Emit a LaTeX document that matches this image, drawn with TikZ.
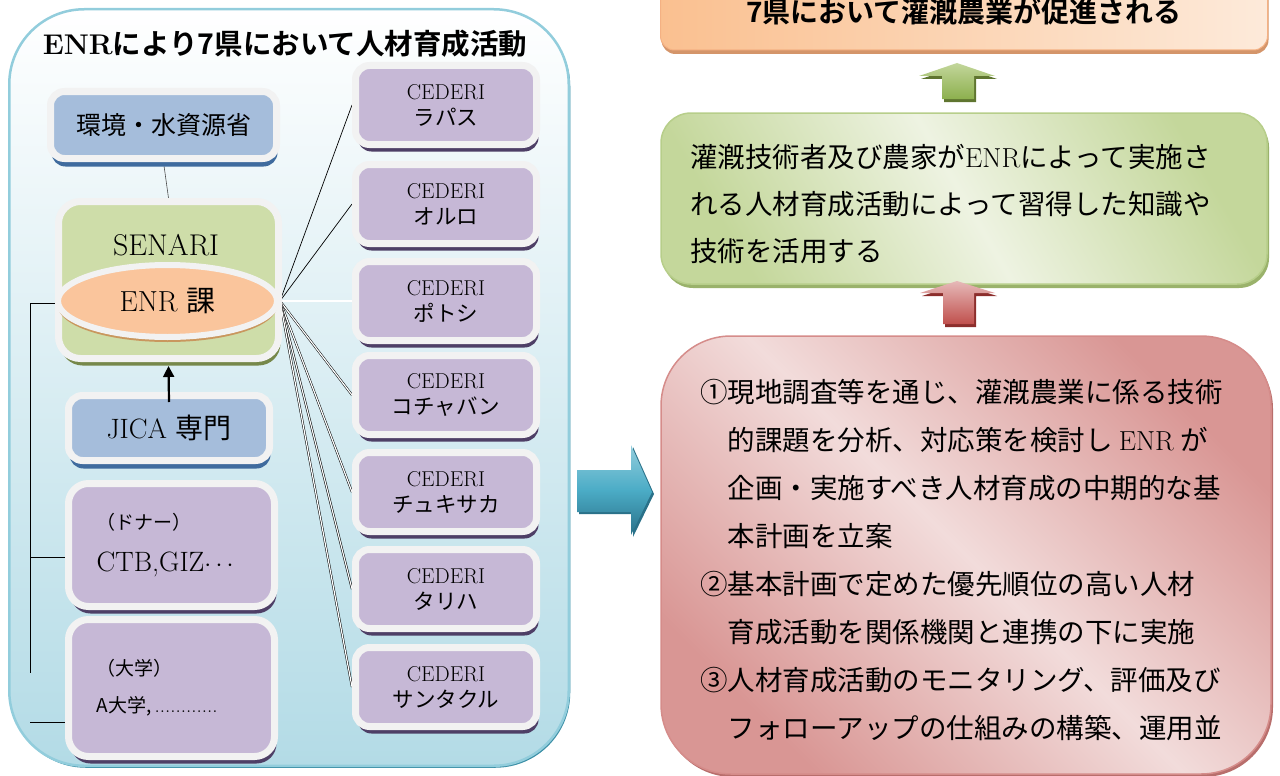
\documentclass[tikz,border=0pt]{standalone}
\usepackage{fontspec}
\newfontfamily\jp{Noto Sans CJK JP}[BoldFont={Noto Sans CJK JP Bold}]
\usetikzlibrary{shapes.geometric,shadows,arrows.meta}
\definecolor{rim}{HTML}{F2F2F2}
\definecolor{bluef}{HTML}{A5BDDB}
\definecolor{bluesh}{HTML}{3F6B9E}
\definecolor{purf}{HTML}{C6B8D6}
\definecolor{pursh}{HTML}{4E3F66}
\definecolor{grnf}{HTML}{CEDDA9}
\definecolor{grnsh}{HTML}{76884A}
\definecolor{orf}{HTML}{FAC59C}
\definecolor{orsh}{HTML}{C9975E}
\definecolor{framebd}{HTML}{92CDDC}
\definecolor{framesh}{HTML}{3C8FA6}
\definecolor{framebot}{HTML}{B3DBE6}
\definecolor{orA}{HTML}{FAC090}
\definecolor{orB}{HTML}{FDEADA}
\definecolor{orbd}{HTML}{F4B183}
\definecolor{orsh2}{HTML}{D4956A}
\definecolor{gA}{HTML}{C4D79B}
\definecolor{gB}{HTML}{EEF3E2}
\definecolor{gbd}{HTML}{B7CE8A}
\definecolor{gsh}{HTML}{9AB26B}
\definecolor{rA}{HTML}{D99694}
\definecolor{rB}{HTML}{F2DCDB}
\definecolor{rbd}{HTML}{D58C8A}
\definecolor{rsh}{HTML}{B86E6C}
\definecolor{arrG1}{HTML}{C3D69B}
\definecolor{arrG2}{HTML}{8DB04E}
\definecolor{arrGsh}{HTML}{5F7530}
\definecolor{arrR1}{HTML}{E6B9B8}
\definecolor{arrR2}{HTML}{C0504D}
\definecolor{arrRsh}{HTML}{8C2E2C}
\definecolor{arrB1}{HTML}{93CDDD}
\definecolor{arrB2}{HTML}{4BACC6}
\definecolor{arrBsh}{HTML}{2A7189}
\pgfdeclarelayer{bg}\pgfdeclarelayer{conn}\pgfsetlayers{bg,conn,main}
\begin{document}
\begin{tikzpicture}[x=1pt,y=-1pt,
  box/.style={draw=rim, line width=7pt, rounded corners=14pt, inner sep=0pt, align=center, text=black},
  bluebox/.style={box, fill=bluef, general shadow={fill=bluesh, shadow xshift=1pt, shadow yshift=-8pt}},
  purbox/.style={box, fill=purf, general shadow={fill=pursh, shadow xshift=2pt, shadow yshift=-7pt}},
  cederi/.style={purbox, minimum width=181pt, minimum height=79pt, font=\fontsize{21.5}{26}\selectfont},
  conn/.style={line width=0.7pt, black},
  dconn/.style={double=white, double distance=1.2pt, line width=0.5pt, black},
]
\useasboundingbox (0,0) rectangle (1280,776);

% ---------------- left frame ----------------
\begin{pgfonlayer}{bg}
\node[draw=framebd, line width=2.5pt, rounded corners=75pt, top color=white, bottom color=framebot,
      general shadow={fill=framesh, shadow xshift=1.5pt, shadow yshift=-2pt},
      minimum width=559.5pt, minimum height=756.5pt, inner sep=0pt] (frame) at (289,387.5) {};
\end{pgfonlayer}

\node[font=\jp\bfseries\fontsize{28.5}{30}\selectfont] (title) at (285,44) {{\rmfamily\bfseries ENR}により{\bfseries 7}県において人材育成活動};

\node[bluebox, minimum width=226pt, minimum height=67pt, font=\jp\fontsize{25}{28}\selectfont] (kankyo) at (163.5,125) {環境・水資源省};

\node[box, fill=grnf, rounded corners=22pt, general shadow={fill=grnsh, shadow xshift=2pt, shadow yshift=-7pt},
      minimum width=220pt, minimum height=157pt] (senari) at (168.5,280) {};
\node[font=\fontsize{30}{32}\selectfont] (senaritxt) at (166,245) {SENARI};
\node[ellipse, draw=rim, line width=6pt, fill=orf, general shadow={fill=orsh, shadow yshift=-5pt},
      minimum width=219pt, minimum height=72pt, inner sep=0pt, font=\fontsize{29}{30}\selectfont] (enr) at (167.5,301) {ENR {\jp 課}};

\node[bluebox, minimum width=201pt, minimum height=65pt, font=\fontsize{28}{30}\selectfont] (jica) at (169,428) {JICA {\jp 専門}};

\node[purbox, rounded corners=20pt, minimum width=206pt, minimum height=123pt, align=left, text width=150pt] (donor) at (171.5,545)
  {{\jp\fontsize{19}{20}\selectfont （ドナー）}\\[20pt]{\fontsize{28}{28}\selectfont CTB,GIZ$\cdots$}};
\node[purbox, rounded corners=20pt, minimum width=206pt, minimum height=137pt, align=left, text width=150pt] (univ) at (171.5,688)
  {{\jp\fontsize{19}{20}\selectfont （大学）}\\[18pt]{\jp\fontsize{19}{20}\selectfont A大学,{\rmfamily\,\fontsize{21}{20}\selectfont............}}};

\node[cederi] (c1) at (446,105) {CEDERI\\\jp ラパス};
\node[cederi] (c2) at (446,204) {CEDERI\\\jp オルロ};
\node[cederi] (c3) at (446,301) {CEDERI\\\jp ポトシ};
\node[cederi] (c4) at (446,395) {CEDERI\\\jp コチャバン};
\node[cederi] (c5) at (446,492) {CEDERI\\\jp チュキサカ};
\node[cederi] (c6) at (446,589) {CEDERI\\\jp タリハ};
\node[cederi] (c7) at (446,687) {CEDERI\\\jp サンタクル};

% connectors
\coordinate (bt) at (30,303);
\coordinate (bb) at (30,673);
\coordinate (bd) at (30,557);
\coordinate (bu) at (30,722);
\begin{pgfonlayer}{conn}
\draw[line width=0.6pt, black!70] (kankyo.south) -- (senari.north);
\draw[conn] (enr.west |- bt) -- (bt) -- (bb);
\draw[conn] (bd) -- (donor.west |- bd);
\draw[conn] (bu) -- (univ.west |- bu);
\draw[conn] (enr.east) -- (c1.west);
\draw[conn] (enr.east) -- (c2.west);
\draw[dconn] (enr.east) -- (c3.west);
\draw[dconn] (enr.east) -- (c4.west);
\draw[dconn] (enr.east) -- (c5.west);
\draw[dconn] (enr.east) -- (c6.west);
\draw[dconn] (enr.east) -- (c7.west);
\end{pgfonlayer}
\draw[line width=2.2pt, -{Triangle[length=11pt,width=11pt]}] ([yshift=-10pt]jica.north) -- ([yshift=-4pt]senari.south);

% middle blue block arrow
\path[top color=arrB1, bottom color=arrBsh, middle color=arrB2, general shadow={fill=arrBsh, shadow xshift=2pt, shadow yshift=-2pt}]
  (577,470) -- (631,470) -- (631,445) -- (652,492) -- (631,535) -- (631,512) -- (577,512) -- cycle;

% ---------------- right column ----------------
\node[draw=orbd, line width=1pt, rounded corners=14pt, left color=orA, right color=orB, inner sep=0pt,
      general shadow={fill=orsh2, shadow xshift=1pt, shadow yshift=-4pt},
      minimum width=607pt, minimum height=76pt, font=\jp\bfseries\fontsize{28}{30}\selectfont] (goal) at (964,12)
      {7県において灌漑農業が促進される};

\path[top color=arrG1, bottom color=arrG2, general shadow={fill=arrGsh, shadow xshift=2pt, shadow yshift=-3pt}]
  (957,63) -- (995,76) -- (974,76) -- (974,99) -- (942,99) -- (942,76) -- (919,76) -- cycle;

\node[draw=gbd, line width=1.5pt, rounded corners=30pt, left color=gA, right color=gA, middle color=gB, shading angle=-60,
      general shadow={fill=gsh, shadow xshift=2pt, shadow yshift=-4pt},
      minimum width=606pt, minimum height=171pt, inner sep=0pt] (outcome) at (964,198.5) {};
\node[anchor=west, align=left, inner sep=0pt, font=\jp\fontsize{27.5}{47}\selectfont] (outtxt) at (690,204)
  {灌漑技術者及び農家が{\rmfamily ENR}によって実施さ\\れる人材育成活動によって習得した知識や\\技術を活用する};

\path[top color=arrR1, bottom color=arrR2, general shadow={fill=arrRsh, shadow xshift=2pt, shadow yshift=-3pt}]
  (957,281) -- (995,293) -- (974,293) -- (974,324) -- (943,324) -- (943,293) -- (920,293) -- cycle;

\node[draw=rbd, line width=1.5pt, rounded corners=70pt, left color=rA, right color=rA, middle color=rB, shading angle=-45,
      general shadow={fill=rsh, shadow xshift=2pt, shadow yshift=-3pt},
      minimum width=610pt, minimum height=438pt, inner sep=0pt] (activity) at (966,555) {};
\node[anchor=west, align=left, inner sep=0pt, font=\jp\fontsize{27.5}{48}\selectfont] (acttxt) at (700,560)
  {①現地調査等を通じ、灌漑農業に係る技術\\
   \hspace*{1em}的課題を分析、対応策を検討し {\rmfamily ENR} が\\
   \hspace*{1em}企画・実施すべき人材育成の中期的な基\\
   \hspace*{1em}本計画を立案\\
   ②基本計画で定めた優先順位の高い人材\\
   \hspace*{1em}育成活動を関係機関と連携の下に実施\\
   ③人材育成活動のモニタリング、評価及び\\
   \hspace*{1em}フォローアップの仕組みの構築、運用並};
\end{tikzpicture}
\end{document}
